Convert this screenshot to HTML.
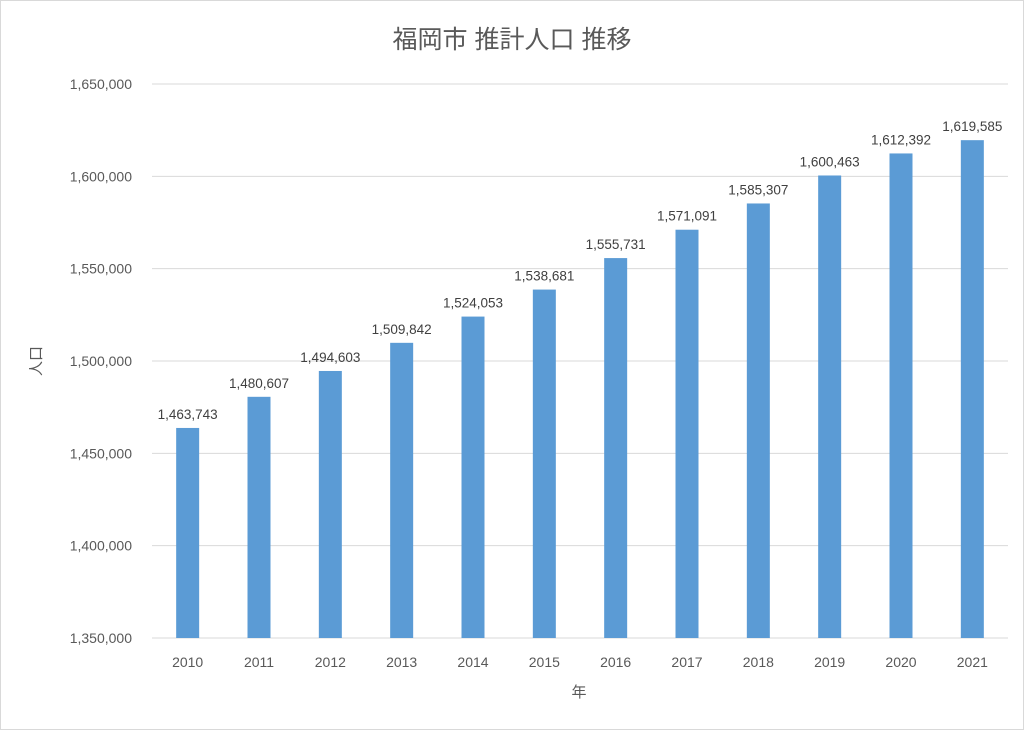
<!DOCTYPE html>
<html><head><meta charset="utf-8"><style>
body{margin:0;background:#fff;}
svg{display:block;font-family:"Liberation Sans","Noto Sans CJK JP",sans-serif;}
</style></head><body>
<svg id="chart" width="1024" height="730" viewBox="0 0 1024 730">
<rect x="0.5" y="0.5" width="1023" height="729" fill="#fff" stroke="#d9d9d9"/>
<text x="512" y="48" text-anchor="middle" font-size="25" fill="#595959">福岡市 推計人口 推移</text>
<g id="grid"></g>
<g id="yticks"></g>
<g id="bars"></g>
<g id="xticks"></g>
<text transform="translate(41,361) rotate(-90)" text-anchor="middle" font-size="15" fill="#595959">人口</text>
<text x="579" y="697" text-anchor="middle" font-size="15" fill="#595959">年</text>
</svg>
<script>
const categories=["2010","2011","2012","2013","2014","2015","2016","2017","2018","2019","2020","2021"];
const values=[1463743,1480607,1494603,1509842,1524053,1538681,1555731,1571091,1585307,1600463,1612392,1619585];
const yTicks=[1350000,1400000,1450000,1500000,1550000,1600000,1650000];
const NS="http://www.w3.org/2000/svg";
const x0=152,x1=1008,yMin=1350000,yMax=1650000,py0=638,py1=84;
const y=v=>py0-(v-yMin)/(yMax-yMin)*(py0-py1);
const bw=(x1-x0)/categories.length;
const xc=i=>x0+bw*(i+0.5);
const fmt=v=>v.toLocaleString("en-US");
function mk(tag,attrs,parent,txt){const e=document.createElementNS(NS,tag);for(const k in attrs)e.setAttribute(k,attrs[k]);if(txt!==undefined)e.textContent=txt;document.getElementById(parent).appendChild(e);return e;}
yTicks.forEach(t=>{
  const l=mk("line",{x1:x0,x2:x1,y1:y(t),y2:y(t),stroke:"#d9d9d9","stroke-width":1},"grid");
  
  
  const tx=mk("text",{x:132,y:y(t)+5,"text-anchor":"end","font-size":"14",fill:"#595959"},"yticks",fmt(t));
  
  
});
categories.forEach((c,i)=>{
  const v=values[i];
  const r=mk("rect",{x:xc(i)-11.5,y:y(v),width:23,height:py0-y(v),fill:"#5b9bd5"},"bars");
  
  
  const lb=mk("text",{x:xc(i),y:y(v)-9,"text-anchor":"middle","font-size":"13.5",fill:"#404040"},"bars",fmt(v));
  
  
  const xt=mk("text",{x:xc(i),y:667,"text-anchor":"middle","font-size":"14",fill:"#595959"},"xticks",c);
  
  
});
</script>
</body></html>
